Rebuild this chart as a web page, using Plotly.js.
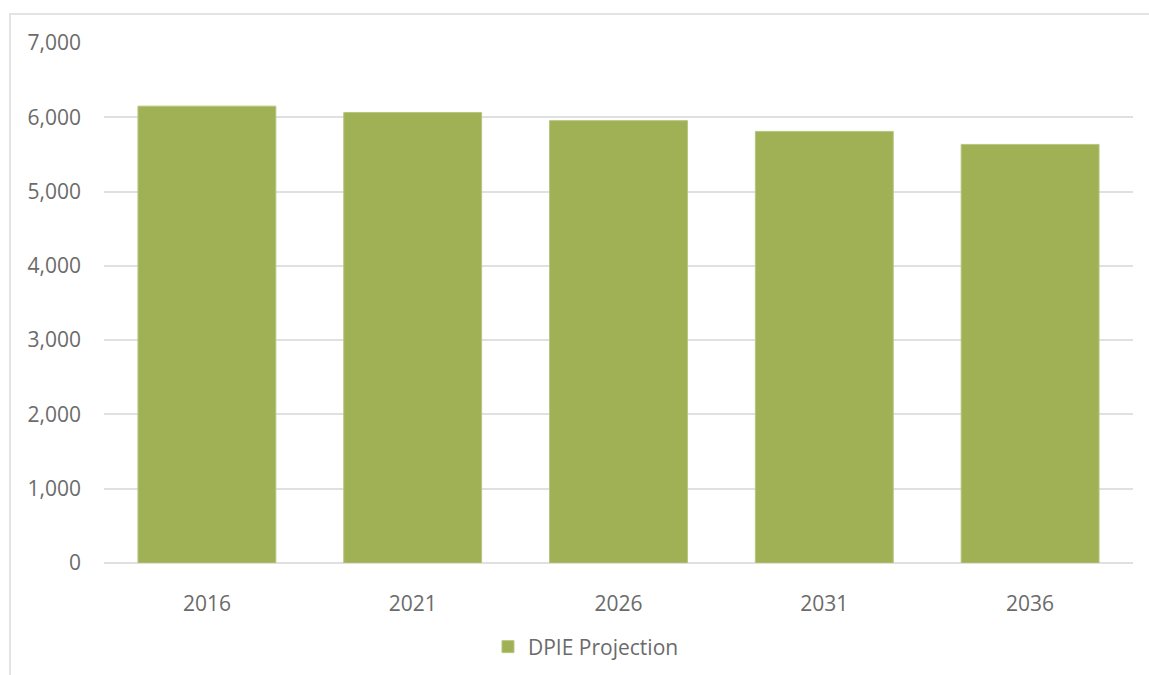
<!DOCTYPE html>
<html>
<head>
<meta charset="utf-8">
<script src="https://cdn.plot.ly/plotly-3.0.1.min.js"></script>
<style>
  html, body { margin: 0; padding: 0; background: #ffffff; }
  #frame { position: absolute; left: 9px; top: 13px; width: 1140px; height: 662px;
           border-left: 2px solid #e3e3e3; border-top: 2px solid #e3e3e3; box-sizing: border-box; }
  #chart { position: absolute; left: 0; top: 0; width: 1149px; height: 675px; }
</style>
</head>
<body>
<div id="frame"></div>
<div id="chart"></div>
<script>
const years = ['2016', '2021', '2026', '2031', '2036'];
const projection = [6150, 6065, 5955, 5810, 5635];
const seriesName = 'DPIE Projection';
const yTicks = [0, 1000, 2000, 3000, 4000, 5000, 6000, 7000];
const yTickLabels = ['0', '1,000', '2,000', '3,000', '4,000', '5,000', '6,000', '7,000'];

const fontFam = '"Open Sans", "Noto Sans", sans-serif';
const txtColor = '#6b6b6b';

Plotly.newPlot('chart', [{
  type: 'bar',
  x: years,
  y: projection,
  name: seriesName,
  marker: { color: '#9fb055', line: { color: '#b7c57f', width: 1 } },
  showlegend: true,
  hoverinfo: 'x+y'
}], {
  width: 1149,
  height: 675,
  margin: { l: 104, r: 16, t: 43, b: 112, autoexpand: false },
  paper_bgcolor: 'rgba(0,0,0,0)',
  plot_bgcolor: 'rgba(0,0,0,0)',
  bargap: 0.33,
  font: { family: fontFam, size: 21, color: txtColor },
  xaxis: {
    type: 'category',
    showgrid: false,
    showline: false,
    ticks: '',
    tickfont: { family: fontFam, size: 21, color: txtColor },
    ticklabelstandoff: 26
  },
  yaxis: {
    range: [0, 7000],
    tickvals: yTicks,
    ticktext: yTickLabels,
    showgrid: true,
    gridcolor: '#e0e0e0',
    gridwidth: 2,
    zeroline: true,
    zerolinecolor: '#e0e0e0',
    zerolinewidth: 2,
    showline: false,
    ticks: '',
    ticklabelstandoff: 22,
    tickfont: { family: fontFam, size: 21, color: txtColor }
  },
  legend: {
    orientation: 'h',
    xref: 'container',
    yref: 'container',
    x: 0.4247,
    xanchor: 'left',
    y: 0.0415,
    yanchor: 'middle',
    font: { family: fontFam, size: 21, color: txtColor },
    bgcolor: 'rgba(0,0,0,0)'
  }
}, { displayModeBar: false, staticPlot: true });
</script>
</body>
</html>
